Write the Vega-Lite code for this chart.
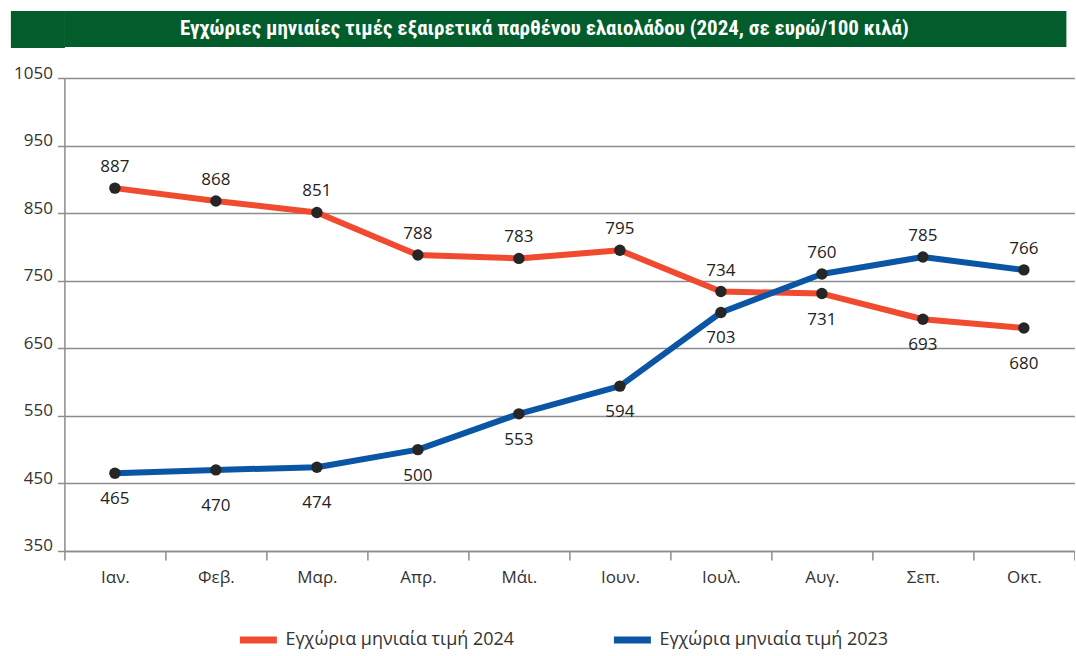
{
  "$schema": "https://vega.github.io/schema/vega-lite/v6.json",
  "padding": {"left": 7.4, "top": 10, "right": 0, "bottom": 0},
  "background": "white",
  "spacing": 16,
  "bounds": "full",
  "config": {
    "view": {"stroke": null},
    "font": "Open Sans"
  },
  "vconcat": [
    {
      "width": 1002,
      "height": 36,
      "view": {"fill": "#025c2c", "stroke": null},
      "data": {"values": [{"t": "Εγχώριες μηνιαίες τιμές εξαιρετικά παρθένου ελαιολάδου (2024, σε ευρώ/100 κιλά)", "c": 0.5}]},
      "mark": {"type": "text", "color": "white", "font": "Liberation Sans Narrow, Roboto Condensed, sans-serif", "fontWeight": "bold", "fontSize": 21, "dx": -21},
      "encoding": {
        "text": {"field": "t"},
        "y": {
          "field": "c", "type": "quantitative",
          "scale": {"domain": [0, 1], "nice": false, "zero": false},
          "axis": {"title": null, "values": [0.0556, 0.1667, 0.2778, 0.3889, 0.5, 0.6111, 0.7222, 0.8333, 0.9444], "labels": false, "domain": false, "grid": false, "ticks": true, "tickSize": 54, "tickWidth": 5.2, "tickCap": "butt", "tickColor": "#025c2c"}
        }
      }
    },
    {
      "width": 1010,
      "height": 473,
      "data": {"values": [
        {"month": "Ιαν.", "series": "Εγχώρια μηνιαία τιμή 2024", "value": 887, "pos": "above"},
        {"month": "Φεβ.", "series": "Εγχώρια μηνιαία τιμή 2024", "value": 868, "pos": "above"},
        {"month": "Μαρ.", "series": "Εγχώρια μηνιαία τιμή 2024", "value": 851, "pos": "above"},
        {"month": "Απρ.", "series": "Εγχώρια μηνιαία τιμή 2024", "value": 788, "pos": "above"},
        {"month": "Μάι.", "series": "Εγχώρια μηνιαία τιμή 2024", "value": 783, "pos": "above"},
        {"month": "Ιουν.", "series": "Εγχώρια μηνιαία τιμή 2024", "value": 795, "pos": "above"},
        {"month": "Ιουλ.", "series": "Εγχώρια μηνιαία τιμή 2024", "value": 734, "pos": "above"},
        {"month": "Αυγ.", "series": "Εγχώρια μηνιαία τιμή 2024", "value": 731, "pos": "below"},
        {"month": "Σεπ.", "series": "Εγχώρια μηνιαία τιμή 2024", "value": 693, "pos": "below"},
        {"month": "Οκτ.", "series": "Εγχώρια μηνιαία τιμή 2024", "value": 680, "pos": "below2"},
        {"month": "Ιαν.", "series": "Εγχώρια μηνιαία τιμή 2023", "value": 465, "pos": "below"},
        {"month": "Φεβ.", "series": "Εγχώρια μηνιαία τιμή 2023", "value": 470, "pos": "below2"},
        {"month": "Μαρ.", "series": "Εγχώρια μηνιαία τιμή 2023", "value": 474, "pos": "below2"},
        {"month": "Απρ.", "series": "Εγχώρια μηνιαία τιμή 2023", "value": 500, "pos": "below"},
        {"month": "Μάι.", "series": "Εγχώρια μηνιαία τιμή 2023", "value": 553, "pos": "below"},
        {"month": "Ιουν.", "series": "Εγχώρια μηνιαία τιμή 2023", "value": 594, "pos": "below"},
        {"month": "Ιουλ.", "series": "Εγχώρια μηνιαία τιμή 2023", "value": 703, "pos": "below"},
        {"month": "Αυγ.", "series": "Εγχώρια μηνιαία τιμή 2023", "value": 760, "pos": "above"},
        {"month": "Σεπ.", "series": "Εγχώρια μηνιαία τιμή 2023", "value": 785, "pos": "above"},
        {"month": "Οκτ.", "series": "Εγχώρια μηνιαία τιμή 2023", "value": 766, "pos": "above"}
      ]},
      "encoding": {
        "x": {
          "field": "month", "type": "nominal",
          "sort": ["Ιαν.", "Φεβ.", "Μαρ.", "Απρ.", "Μάι.", "Ιουν.", "Ιουλ.", "Αυγ.", "Σεπ.", "Οκτ."],
          "scale": {"type": "band", "paddingInner": 0, "paddingOuter": 0},
          "axis": {
            "title": null, "labelAngle": 0, "tickBand": "extent", "tickExtra": true, "grid": false,
            "domainColor": "#8c8c8c", "domainWidth": 1.5, "tickColor": "#8c8c8c", "tickWidth": 1.5, "tickSize": 9,
            "labelFontSize": 17, "labelColor": "#333333", "labelPadding": 10, "labelFont": "Open Sans"
          }
        },
        "y": {
          "field": "value", "type": "quantitative",
          "scale": {"domain": [350, 1050], "nice": false, "zero": false},
          "axis": {
            "title": null, "values": [350, 450, 550, 650, 750, 850, 950, 1050], "format": "d",
            "grid": true, "gridColor": "#8c8c8c", "gridWidth": 1.5,
            "domainColor": "#8c8c8c", "domainWidth": 1.5, "tickColor": "#8c8c8c", "tickWidth": 1.5, "tickSize": 7,
            "labelFontSize": 17, "labelColor": "#333333", "labelPadding": 5, "labelBaseline": "alphabetic", "labelOffset": 0, "labelFont": "Open Sans"
          }
        }
      },
      "layer": [
        {
          "mark": {"type": "line", "strokeWidth": 6, "strokeCap": "round", "strokeJoin": "round"},
          "encoding": {
            "color": {
              "field": "series", "type": "nominal",
              "scale": {"domain": ["Εγχώρια μηνιαία τιμή 2024", "Εγχώρια μηνιαία τιμή 2023"], "range": ["#f04a2f", "#0a56a4"]},
              "legend": {
                "title": null, "orient": "none", "legendX": 172, "legendY": 607, "direction": "horizontal",
                "symbolType": "stroke", "symbolSize": 1369, "symbolStrokeWidth": 7,
                "labelFontSize": 18, "labelLimit": 400, "labelColor": "#333333", "labelFont": "Open Sans", "labelOffset": 5, "columnPadding": 85
              }
            }
          }
        },
        {
          "mark": {"type": "point", "filled": true, "size": 130, "color": "#262626", "opacity": 1}
        },
        {
          "transform": [{"filter": "datum.pos == 'above'"}],
          "mark": {"type": "text", "dy": -21, "fontSize": 17, "color": "#222222", "font": "Open Sans"},
          "encoding": {"text": {"field": "value"}}
        },
        {
          "transform": [{"filter": "datum.pos == 'below'"}],
          "mark": {"type": "text", "dy": 26, "fontSize": 17, "color": "#222222", "font": "Open Sans"},
          "encoding": {"text": {"field": "value"}}
        },
        {
          "transform": [{"filter": "datum.pos == 'below2'"}],
          "mark": {"type": "text", "dy": 36, "fontSize": 17, "color": "#222222", "font": "Open Sans"},
          "encoding": {"text": {"field": "value"}}
        }
      ]
    }
  ]
}
